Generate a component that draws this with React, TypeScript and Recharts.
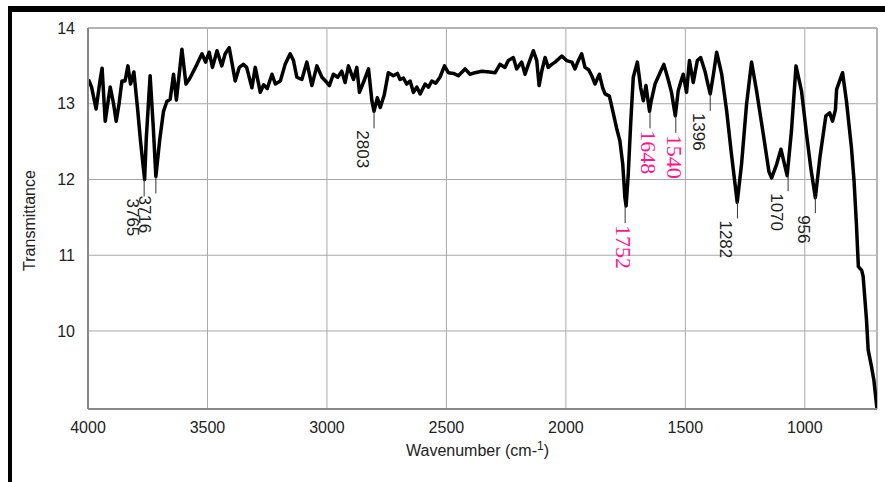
import React from 'react';
import {
  ComposedChart,
  Line,
  Scatter,
  XAxis,
  YAxis,
  CartesianGrid,
  ReferenceLine,
  Label,
} from 'recharts';

// Spectrum (wavenumber in cm-1, transmittance)
const wavenumbers = [
  3998, 3985, 3966, 3950, 3941, 3928, 3915, 3907, 3893, 3882, 3870, 3858, 3845, 3833, 3822, 3808,
  3793, 3780, 3770, 3763, 3756, 3740, 3727, 3716, 3700, 3684, 3670, 3656, 3642, 3630, 3607, 3590,
  3575, 3565, 3552, 3544, 3523, 3508, 3493, 3479, 3460, 3440, 3426, 3409, 3398, 3384, 3367, 3350,
  3336, 3314, 3300, 3279, 3265, 3250, 3230, 3216, 3195, 3175, 3154, 3140, 3126, 3105, 3084, 3063,
  3042, 3021, 3000, 2990, 2973, 2955, 2938, 2924, 2910, 2889, 2875, 2864, 2845, 2826, 2812, 2803,
  2789, 2777, 2760, 2743, 2722, 2705, 2694, 2680, 2666, 2652, 2638, 2624, 2610, 2589, 2575, 2561,
  2545, 2527, 2508, 2492, 2470, 2450, 2422, 2401, 2380, 2352, 2320, 2296, 2276, 2255, 2241, 2220,
  2206, 2185, 2171, 2157, 2136, 2122, 2112, 2101, 2087, 2074, 2059, 2045, 2017, 1997, 1975, 1962,
  1948, 1934, 1920, 1905, 1892, 1878, 1860, 1846, 1836, 1818, 1802, 1788, 1774, 1762, 1753, 1748,
  1739, 1729, 1718, 1701, 1687, 1676, 1665, 1650, 1644, 1627, 1606, 1590, 1572, 1558, 1542, 1530,
  1520, 1509, 1495, 1483, 1467, 1450, 1436, 1418, 1405, 1396, 1382, 1369, 1348, 1327, 1307, 1283,
  1265, 1244, 1223, 1202, 1174, 1150, 1139, 1118, 1100, 1088, 1074, 1056, 1037, 1014, 993, 975,
  956, 937, 912, 896, 884, 872, 867, 842, 826, 805, 794, 784, 776, 762, 756, 742,
  735, 721, 711, 698,
];
const transmittance = [
  13.32, 13.22, 12.93, 13.3, 13.47, 12.77, 13.05, 13.22, 13.0, 12.77, 13.0, 13.3, 13.3, 13.5, 13.26, 13.42,
  12.95, 12.5, 12.2, 12.0, 12.55, 13.37, 12.7, 12.04, 12.52, 12.9, 13.03, 13.06, 13.39, 13.05, 13.72, 13.26,
  13.33, 13.39, 13.47, 13.52, 13.66, 13.55, 13.68, 13.48, 13.7, 13.5, 13.66, 13.74, 13.55, 13.3, 13.48, 13.52,
  13.48, 13.21, 13.48, 13.15, 13.25, 13.2, 13.39, 13.26, 13.3, 13.52, 13.66, 13.57, 13.35, 13.32, 13.55, 13.24,
  13.5, 13.35, 13.28, 13.24, 13.39, 13.35, 13.43, 13.28, 13.5, 13.32, 13.48, 13.15, 13.3, 13.46, 13.04, 12.9,
  13.08, 12.95, 13.12, 13.41, 13.37, 13.4, 13.32, 13.34, 13.26, 13.3, 13.15, 13.22, 13.13, 13.26, 13.22, 13.3,
  13.27, 13.35, 13.5, 13.41, 13.4, 13.37, 13.46, 13.39, 13.41, 13.43, 13.42, 13.41, 13.52, 13.48, 13.57, 13.61,
  13.46, 13.55, 13.39, 13.52, 13.7, 13.57, 13.24, 13.43, 13.61, 13.48, 13.52, 13.55, 13.63, 13.57, 13.55, 13.46,
  13.57, 13.66, 13.48, 13.45, 13.37, 13.26, 13.39, 13.21, 13.13, 13.1, 12.88, 12.68, 12.51, 12.2, 11.76, 11.65,
  12.07, 12.73, 13.35, 13.55, 13.21, 13.04, 13.24, 12.9, 13.02, 13.26, 13.41, 13.52, 13.32, 13.15, 12.84, 13.17,
  13.28, 13.39, 13.15, 13.57, 13.28, 13.57, 13.61, 13.43, 13.25, 13.13, 13.4, 13.68, 13.39, 12.9, 12.33, 11.7,
  12.2, 12.99, 13.55, 13.17, 12.6, 12.1, 12.02, 12.2, 12.4, 12.24, 12.05, 12.64, 13.5, 13.17, 12.6, 12.15,
  11.76, 12.29, 12.84, 12.88, 12.77, 12.92, 13.19, 13.41, 13.04, 12.42, 11.98, 11.4, 10.85, 10.8, 10.72, 10.15,
  9.75, 9.53, 9.35, 8.97,
];

// Annotated peaks
const peakWavenumbers = [3765, 3716, 2803, 1752, 1648, 1540, 1396, 1282, 1070, 956];
const peakTransmittance = [12.0, 12.04, 12.9, 11.65, 12.9, 12.84, 13.13, 11.71, 12.07, 11.78];
const peakLabels = ['3765', '3716', '2803', '1752', '1648', '1540', '1396', '1282', '1070', '956'];
const peakHighlighted = [false, false, false, true, true, true, false, false, false, false];

const xTicks = [4000, 3500, 3000, 2500, 2000, 1500, 1000];
const yTicks = [10, 11, 12, 13, 14];
const X_MIN = 698;
const X_MAX = 4000;
const Y_MIN = 8.97;
const Y_MAX = 14;

const spectrum = wavenumbers.map((wn, i) => ({ wn, t: transmittance[i] }));
const peaks = peakWavenumbers.map((wn, i) => ({
  wn,
  t: peakTransmittance[i],
  label: peakLabels[i],
  pink: peakHighlighted[i],
}));

const SANS = '"Liberation Sans", Arial, sans-serif';
const SERIF = '"Liberation Serif", "Times New Roman", "DejaVu Serif", serif';

const PeakMarker = (props: any) => {
  const { cx, cy, payload } = props;
  if (cx == null || cy == null || !payload) return null;
  const pink = payload.pink;
  const y2 = cy + 17;
  const tx = pink ? cx - 9 : cx - 17;
  const ty = y2 + 2;
  return (
    <g>
      <line x1={cx} y1={cy} x2={cx} y2={y2} stroke="#333" strokeWidth={1} />
      <text
        x={tx}
        y={ty}
        transform={`rotate(90 ${tx} ${ty})`}
        textAnchor="start"
        fill={pink ? '#ff1493' : '#222'}
        fontSize={pink ? 22 : 17}
        style={{ fontFamily: pink ? SERIF : SANS }}
      >
        {payload.label}
      </text>
    </g>
  );
};

const XLabel = (props: any) => {
  const vb = props.viewBox || {};
  const x = vb.x + vb.width / 2 - 5;
  const y = vb.y + 47;
  return (
    <text x={x} y={y} textAnchor="middle" fill="#222" fontSize={16} style={{ fontFamily: SANS }}>
      <tspan>Wavenumber (cm-</tspan>
      <tspan fontSize={12} dy={-6}>1</tspan>
      <tspan dy={6}>)</tspan>
    </text>
  );
};

const YLabel = (props: any) => {
  const vb = props.viewBox || {};
  const x = vb.x + 7;
  const y = vb.y + vb.height / 2 + 2;
  return (
    <text
      x={x}
      y={y}
      transform={`rotate(-90 ${x} ${y})`}
      textAnchor="middle"
      fill="#222"
      fontSize={16}
      style={{ fontFamily: SANS }}
    >
      Transmittance
    </text>
  );
};

export default function App() {
  return (
    <div style={{ position: 'fixed', left: 0, top: 0, width: 885, height: 482, background: '#fff' }}>
      <div
        style={{
          position: 'absolute',
          left: 8,
          top: 6,
          width: 877,
          height: 476,
          borderTop: '6px solid #000',
          borderLeft: '4px solid #000',
          boxSizing: 'border-box',
        }}
      />
      <div style={{ position: 'absolute', left: 0, top: 0 }}>
        <ComposedChart
          width={885}
          height={482}
          margin={{ top: 28, right: 8, bottom: 43, left: 28 }}
        >
          <CartesianGrid stroke="#a8a8a8" strokeWidth={1} />
          <XAxis
            type="number"
            dataKey="wn"
            domain={[X_MIN, X_MAX]}
            reversed
            ticks={xTicks}
            interval={0}
            allowDataOverflow
            height={30}
            tickLine={false}
            tickMargin={7}
            axisLine={{ stroke: '#888', strokeWidth: 2 }}
            tick={{ fill: '#222', fontSize: 16, fontFamily: SANS }}
          >
            <Label content={XLabel} />
          </XAxis>
          <YAxis
            type="number"
            dataKey="t"
            domain={[Y_MIN, Y_MAX]}
            ticks={yTicks}
            interval={0}
            allowDataOverflow
            width={60}
            tickLine={false}
            tickMargin={7}
            axisLine={{ stroke: '#888', strokeWidth: 2 }}
            tick={{ fill: '#222', fontSize: 16, fontFamily: SANS }}
          >
            <Label content={YLabel} />
          </YAxis>
          <ReferenceLine y={Y_MAX} stroke="#b4b4b4" strokeWidth={2} />
          <ReferenceLine x={X_MIN} stroke="#b4b4b4" strokeWidth={2} />
          <Line
            data={spectrum}
            dataKey="t"
            type="linear"
            stroke="#000"
            strokeWidth={3.5}
            strokeLinejoin="round"
            dot={false}
            activeDot={false}
            isAnimationActive={false}
          />
          <Scatter
            data={peaks}
            dataKey="t"
            shape={PeakMarker}
            isAnimationActive={false}
          />
        </ComposedChart>
      </div>
    </div>
  );
}
